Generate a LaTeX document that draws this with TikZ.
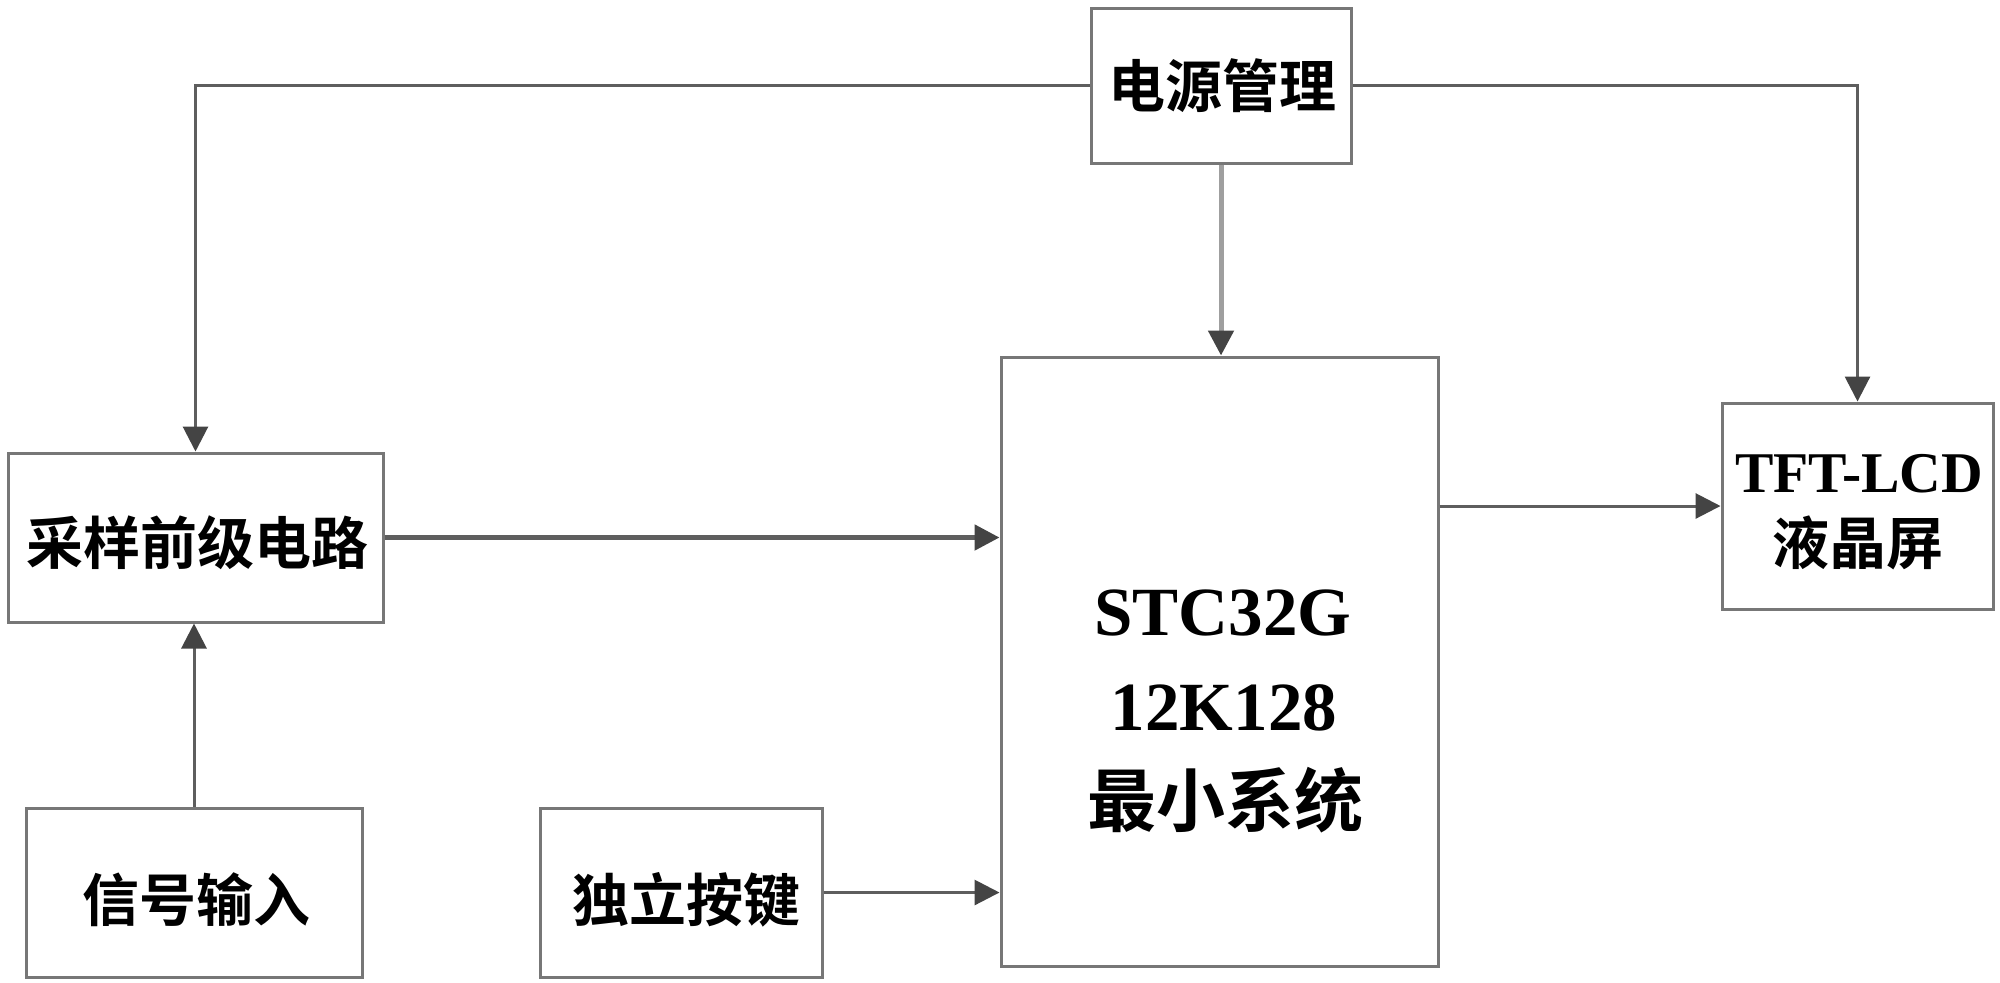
\documentclass[tikz,border=0pt]{standalone}
\usepackage{fontspec}
\setmainfont{Liberation Serif}
\newfontfamily\cjk{Noto Sans CJK SC}[BoldFont={Noto Sans CJK SC Bold}]
\newfontfamily\lat{Liberation Serif}
\usetikzlibrary{arrows.meta}
\definecolor{boxline}{HTML}{777777}
\definecolor{connline}{HTML}{5E5E5E}
\definecolor{tipcol}{HTML}{444444}
\begin{document}
\begin{tikzpicture}[x=0.5pt,y=-0.5pt,
  blk/.style={draw=boxline,line width=1.5pt,fill=white,inner sep=0pt},
  conn/.style={draw=connline,line width=1.5pt,-{Triangle[length=12.5pt,width=12.5pt,color=tipcol]}},
  cjktext/.style={anchor=base,inner sep=0pt,font=\cjk\bfseries\fontsize{28.5pt}{30pt}\selectfont},
  bigcjk/.style={anchor=base,inner sep=0pt,font=\cjk\bfseries\fontsize{34.5pt}{36pt}\selectfont},
  lattext/.style={anchor=base,inner sep=0pt,font=\lat\bfseries\fontsize{28.8pt}{30pt}\selectfont},
  biglat/.style={anchor=base,inner sep=0pt,font=\lat\bfseries\fontsize{34.5pt}{36pt}\selectfont}
]
\useasboundingbox[fill=white] (0,0) rectangle (2000,982);

% boxes
\node[blk,minimum width=130pt,minimum height=77.5pt] (pwr) at (1221,85.5) {};
\node[blk,minimum width=187.5pt,minimum height=84.5pt] (samp) at (195.5,537.5) {};
\node[blk,minimum width=218.5pt,minimum height=304.5pt] (stc) at (1219.5,661.5) {};
\node[blk,minimum width=135.5pt,minimum height=103pt] (tft) at (1857.5,506) {};
\node[blk,minimum width=168pt,minimum height=84.5pt] (sig) at (194,892.5) {};
\node[blk,minimum width=141pt,minimum height=84.5pt] (key) at (681,892.5) {};

% texts
\node[cjktext] (pwrT) at (1222,107) {电源管理};
\node[cjktext] (sampT) at (197,564) {采样前级电路};
\node[cjktext] (sigT) at (196,921) {信号输入};
\node[cjktext] (keyT) at (686,921) {独立按键};
\node[lattext] (tftA) at (1859,492) {TFT-LCD};
\node[cjktext] (tftB) at (1858,564) {液晶屏};
\node[biglat] (stcA) at (1223,635) {STC32G};
\node[biglat] (stcB) at (1224,730) {12K128};
\node[bigcjk] (stcC) at (1225,826) {最小系统};

% connectors
\draw[conn] (pwr.west) -| (samp.north);
\draw[conn] (pwr.east) -| (tft.north);
\draw[conn,draw=gray!75,line width=2.5pt] (pwr.south) -- (pwr.south |- stc.north);
\draw[conn,line width=2.5pt] (samp.east) -- (samp.east -| stc.west);
\draw[conn] (stc.east |- tft.west) -- (tft.west);
\draw[conn] (sig.north) -- (sig.north |- samp.south);
\draw[conn] (key.east) -- (key.east -| stc.west);
\end{tikzpicture}
\end{document}
